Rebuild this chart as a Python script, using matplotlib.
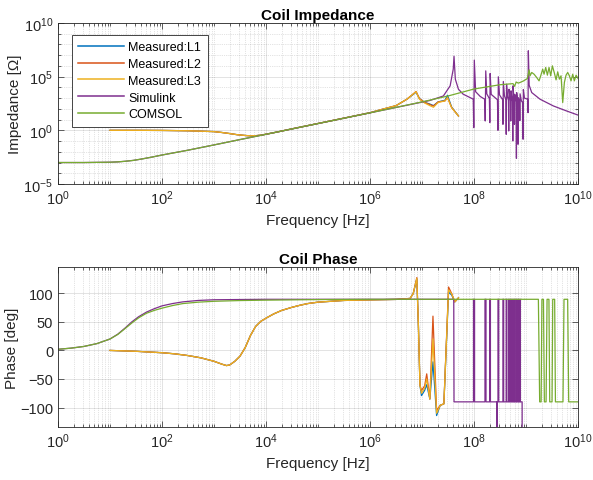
import numpy as np
import matplotlib
matplotlib.use('Agg')
import matplotlib.pyplot as plt
from matplotlib.ticker import NullFormatter

plt.rcParams['font.family'] = ['Liberation Sans', 'DejaVu Sans']
plt.rcParams['mathtext.fontset'] = 'custom'
plt.rcParams['mathtext.rm'] = 'Liberation Sans'

# ---- data (frequency as log10(f)) ----
# impedance, log10 |Z|
meas_lf = [1.0, 1.5, 2.0, 2.5, 3.0, 3.15, 3.3, 3.45, 3.6, 3.7, 3.8, 3.9, 4.0, 4.2, 4.5, 5.0,
           5.5, 6.0, 6.19, 6.5, 6.71, 6.885, 6.95, 7.05, 7.15, 7.22, 7.31, 7.44, 7.49, 7.57, 7.70]
meas_low_logz = [0.0, 0.0, -0.01, -0.04, -0.12, -0.2, -0.3, -0.41, -0.48, -0.51, -0.5, -0.45,
                 -0.36, -0.17, 0.14, 0.64, 1.14, 1.64, 1.9, 2.3, 2.9]
l1_logz = meas_low_logz + [3.55, 2.96, 2.6, 2.45, 2.3, 2.65, 2.8, 3.27, 2.15, 1.34]
l2_logz = meas_low_logz + [3.62, 2.96, 2.6, 2.4, 2.27, 2.65, 2.74, 3.05, 2.12, 1.34]
l3_logz = meas_low_logz + [3.6, 2.9, 2.55, 2.3, 2.15, 2.6, 2.74, 3.05, 2.1, 1.34]

sim_lf = [0, 0.5, 1.0, 1.15, 1.3, 1.45, 1.6, 1.8, 2.0, 2.5, 3.0, 3.5, 4.0, 5.0, 6.0, 7.0, 7.15,
          7.41, 7.54, 7.60, 7.615, 7.64, 7.70, 7.79, 7.92, 7.985, 7.995, 8.005, 8.03, 8.12,
          8.205, 8.215, 8.225, 8.245, 8.295, 8.303, 8.31, 8.33, 8.45, 8.46, 8.467, 8.49, 8.55,
          8.556, 8.563, 8.585, 8.613, 8.619, 8.625, 8.645, 8.662, 8.667, 8.673, 8.69, 8.702,
          8.706, 8.712, 8.728, 8.74, 8.745, 8.75, 8.765, 8.774, 8.778, 8.783, 8.80, 8.81,
          8.815, 8.82, 8.835, 8.842, 8.846, 8.85, 8.875, 8.88, 8.885, 8.91, 8.938, 8.943,
          8.948, 8.97, 9.03, 9.038, 9.044, 9.06, 9.109, 9.269, 9.526, 9.782, 10.0]
sim_logz = [-3.0, -3.0, -2.97, -2.94, -2.88, -2.8, -2.68, -2.5, -2.3, -1.85, -1.36, -0.86,
            -0.37, 0.63, 1.63, 2.63, 2.78, 3.2, 4.14, 5.7, 6.9, 4.77, 3.83, 3.37, 3.06, 2.9,
            0.25, 6.54, 3.6, 3.15, 2.9, 0.87, 5.54, 3.4, 2.95, 0.72, 5.3, 3.35, 2.85, 0.0,
            4.99, 3.3, 2.85, 0.56, 4.55, 3.2, 2.85, -0.37, 4.3, 3.1, 2.8, -0.06, 3.83, 3.05,
            2.75, 0.87, 3.68, 3.0, 2.7, -0.99, 4.15, 3.0, 2.7, 0.56, 3.36, 2.9, 2.65, -2.6,
            3.52, 2.85, 2.6, -1.3, 3.05, 2.7, 0.9, 3.4, 2.75, 2.55, -0.83, 3.8, 3.0, 2.9,
            1.65, 7.41, 4.2, 3.52, 2.90, 2.27, 1.80, 1.42]

comsol_lf = [0, 0.5, 1.0, 1.15, 1.3, 1.45, 1.6, 1.8, 2.0, 2.5, 3.0, 3.5, 4.0, 5.0, 6.0, 7.0,
             7.5, 8.0, 8.5, 8.75, 8.78, 8.81, 8.85, 8.885, 8.95, 9.026, 9.058, 9.077, 9.109,
             9.154, 9.205, 9.25, 9.282, 9.32, 9.346, 9.378, 9.41, 9.442, 9.474, 9.506, 9.545,
             9.577, 9.609, 9.641, 9.673, 9.705, 9.737, 9.769, 9.801, 9.833, 9.865, 9.897,
             9.929, 9.962, 10.0]
comsol_logz = [-3.0, -3.0, -2.97, -2.94, -2.88, -2.8, -2.68, -2.5, -2.3, -1.85, -1.36, -0.86,
               -0.37, 0.63, 1.63, 2.65, 3.2, 3.85, 4.25, 4.35, 4.1, 4.5, 4.4, 4.46, 4.6, 4.83,
               5.64, 5.08, 5.39, 5.23, 4.92, 4.61, 5.08, 5.70, 5.23, 5.86, 5.14, 5.86, 5.08,
               6.01, 5.33, 4.70, 5.45, 4.77, 5.08, 2.59, 4.46, 5.14, 5.39, 5.08, 4.61, 5.23,
               4.61, 5.14, 4.83]

# phase, degrees
mp_lf = [1.0, 1.5, 2.0, 2.25, 2.5, 2.75, 3.0, 3.15, 3.24, 3.3, 3.4, 3.5, 3.6, 3.7, 3.8, 3.9,
         4.01, 4.15, 4.3, 4.5, 4.65, 4.8, 5.0, 5.5, 6.0, 6.5, 6.77, 6.83, 6.90, 6.93, 6.96,
         6.99, 7.05, 7.09, 7.15, 7.21, 7.28, 7.35, 7.42, 7.51, 7.57, 7.63, 7.70]
mp_low = [0, -1.5, -4, -6, -9, -13, -19, -24, -26.5, -25.5, -19, -10, 5, 26, 42, 51,
          57, 64, 70, 75.5, 79, 82, 84.5, 87.5, 88.5, 89.3, 91, 99.5]
l1_phase = mp_low + [125, 44, -61, -79, -70, -60, -85, -20, -114, -96, -93.5, 102, 97, 85, 92]
l2_phase = mp_low + [127.5, 44, -61, -70, -62, -41, -85, 60, -105, -96, -93.5, 111, 99.5, 85, 92]
l3_phase = mp_low + [126, 44, -61, -75, -66, -50, -85, 20, -110, -96, -93.5, 106, 99, 85, 92]

sim_plf = [0, 0.25, 0.5, 0.75, 1.0, 1.15, 1.3, 1.42, 1.55, 1.7, 1.85, 2.0, 2.2, 2.4, 2.7,
           3.0, 4.0, 7.61, 7.615,
           7.99, 7.99, 8.01, 8.01, 8.21, 8.21, 8.23, 8.23, 8.30, 8.30, 8.315, 8.315,
           8.435, 8.435, 8.445, 8.445, 8.46, 8.46, 8.475, 8.475, 8.555, 8.555, 8.57, 8.57,
           8.618, 8.618, 8.632, 8.632, 8.665, 8.665, 8.678, 8.678, 8.705, 8.705, 8.717, 8.717,
           8.744, 8.744, 8.755, 8.755, 8.777, 8.777, 8.788, 8.788, 8.814, 8.814, 8.824, 8.824,
           8.845, 8.845, 8.855, 8.855, 8.88, 8.88, 8.89, 8.89, 8.925, 8.925, 10.0]
sim_phase = [2, 4, 7, 12, 20, 28.5, 40, 50, 59, 67, 73, 78, 82, 85, 87.5,
             88.7, 89.5, 89.5, -90,
             -90, 89.5, 89.5, -90, -90, 89.5, 89.5, -90, -90, 89.5, 89.5, -90,
             -90, -270, -270, -90, -90, 89.5, 89.5, -90, -90, 89.5, 89.5, -90,
             -90, 89.5, 89.5, -90, -90, 89.5, 89.5, -90, -90, 89.5, 89.5, -90,
             -90, 89.5, 89.5, -90, -90, 89.5, 89.5, -90, -90, 89.5, 89.5, -90,
             -90, 89.5, 89.5, -90, -90, 89.5, 89.5, -90, -90, -270, -270]

comsol_plf = [0, 0.25, 0.5, 0.75, 1.0, 1.15, 1.3, 1.42, 1.55, 1.7, 1.85, 2.0, 2.2, 2.4, 2.7,
              3.0, 3.5, 4.0, 5.0, 6.0, 9.237, 9.262, 9.29,
              9.305, 9.335, 9.352, 9.385, 9.404, 9.44, 9.455, 9.50, 9.513, 9.55, 9.565, 9.71,
              9.73, 9.80, 9.82, 10.0]
comsol_phase = [2, 4, 7, 12, 20, 28, 39, 48, 57, 65, 70, 74, 78.5, 82, 84.5,
                86, 87.3, 88, 89, 89.5, 89.5, -90, -90,
                89.5, 89.5, -90, -90, 89.5, 89.5, -90, -90, 89.5, 89.5, -90, -90,
                89.5, 89.5, -90, -90]

labels = ['Measured:L1', 'Measured:L2', 'Measured:L3', 'Simulink', 'COMSOL']
colors = ['#0072BD', '#D95319', '#EDB120', '#7E2F8E', '#77AC30']
AX_COL = '#262626'


def style_axes(ax, xlabel, ylabel, title):
    ax.set_xscale('log')
    ax.set_xlim(1, 1e10)
    ax.set_xticks([10.0 ** k for k in range(0, 11, 2)])
    ax.set_xticks([m * 10.0 ** k for k in range(0, 10) for m in range(1, 10)
                   if not (m == 1 and k % 2 == 0)], minor=True)
    ax.xaxis.set_minor_formatter(NullFormatter())
    ax.grid(True, which='major', color=AX_COL, alpha=0.15, linewidth=0.6)
    ax.grid(True, which='minor', color=AX_COL, alpha=0.25, linewidth=0.5, linestyle=':')
    ax.tick_params(which='both', direction='in', top=True, right=True, colors=AX_COL,
                   labelsize=10.5, width=0.5)
    ax.tick_params(which='major', length=4)
    ax.tick_params(which='minor', length=2.5)
    for s in ax.spines.values():
        s.set_color(AX_COL)
        s.set_linewidth(0.6)
    ax.set_xlabel(xlabel, fontsize=11, color=AX_COL, labelpad=4)
    ax.set_ylabel(ylabel, fontsize=11, color=AX_COL, labelpad=1)
    ax.set_title(title, fontsize=11, fontweight='bold', pad=3)
    ax.set_axisbelow(True)


fig = plt.figure(figsize=(5.93, 4.81), dpi=100)
ax1 = fig.add_axes([0.0978, 0.6154, 0.877, 0.3347])
ax2 = fig.add_axes([0.0978, 0.1102, 0.877, 0.3326])

lw = 0.9
# impedance
f_meas = 10 ** np.array(meas_lf)
for z, c, lab in zip([l1_logz, l2_logz, l3_logz], colors[:3], labels[:3]):
    ax1.plot(f_meas, 10 ** np.array(z), color=c, lw=lw, label=lab)
ax1.plot(10 ** np.array(sim_lf), 10 ** np.array(sim_logz), color=colors[3], lw=lw, label=labels[3])
ax1.plot(10 ** np.array(comsol_lf), 10 ** np.array(comsol_logz), color=colors[4], lw=lw, label=labels[4])
ax1.set_yscale('log')
ax1.set_ylim(1e-5, 1e10)
ax1.set_yticks([1e-5, 1e0, 1e5, 1e10])
ax1.set_yticks([10.0 ** k for k in range(-5, 11) if k % 5], minor=True)
ax1.yaxis.set_minor_formatter(NullFormatter())
style_axes(ax1, 'Frequency [Hz]', 'Impedance [Ω]', 'Coil Impedance')

leg = ax1.legend(loc='upper left', bbox_to_anchor=(0.026, 0.925), borderaxespad=0, fontsize=9,
                 handlelength=3.7, handletextpad=0.35, labelspacing=0.38, borderpad=0.5,
                 fancybox=False, edgecolor=AX_COL, framealpha=1)
leg.get_frame().set_linewidth(0.6)
for h in leg.get_lines():
    h.set_linewidth(1.1)

# phase
f_mp = 10 ** np.array(mp_lf)
for p, c in zip([l1_phase, l2_phase, l3_phase], colors[:3]):
    ax2.plot(f_mp, p, color=c, lw=lw)
ax2.plot(10 ** np.array(sim_plf), sim_phase, color=colors[3], lw=lw)
ax2.plot(10 ** np.array(comsol_plf), comsol_phase, color=colors[4], lw=lw)
ax2.set_ylim(-134, 146)
ax2.set_yticks([-100, -50, 0, 50, 100])
style_axes(ax2, 'Frequency [Hz]', 'Phase [deg]', 'Coil Phase')

fig.savefig('out.png', dpi=100)
